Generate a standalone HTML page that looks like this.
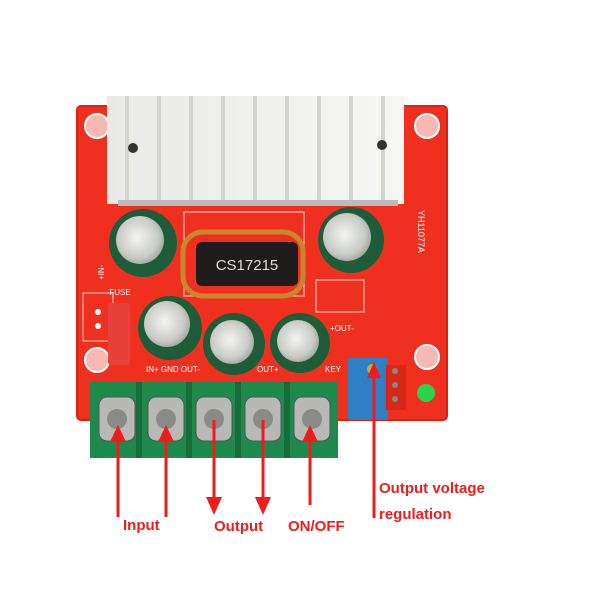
<!DOCTYPE html>
<html><head><style>
html,body{margin:0;padding:0;background:#fff;width:600px;height:600px;overflow:hidden}
text{font-family:"Liberation Sans",sans-serif}
</style></head><body>
<svg width="600" height="600" viewBox="0 0 600 600" xmlns="http://www.w3.org/2000/svg">
<defs>
<radialGradient id="cap" cx="0.45" cy="0.45" r="0.6"><stop offset="0" stop-color="#f4f4f2"/><stop offset="0.7" stop-color="#c9cbc6"/><stop offset="1" stop-color="#9ea29a"/></radialGradient>
<linearGradient id="hs" x1="0" x2="1"><stop offset="0" stop-color="#e9e9e6"/><stop offset="1" stop-color="#f6f6f3"/></linearGradient>
</defs>
<!-- board -->
<rect x="77" y="106" width="370" height="314" rx="4" fill="#f0301e"/>
<rect x="77" y="106" width="370" height="314" rx="4" fill="none" stroke="#d9230f" stroke-width="2"/>
<!-- holes -->
<g fill="#f6b8b0" stroke="#fff" stroke-width="2">
<circle cx="97" cy="126" r="12"/><circle cx="427" cy="126" r="12"/>
<circle cx="97" cy="360" r="12"/><circle cx="427" cy="357" r="12"/>
</g>
<!-- heatsink -->
<rect x="107" y="96" width="297" height="108" fill="url(#hs)"/>
<g fill="#d4d4cf">
<rect x="125" y="96" width="4" height="108"/><rect x="157" y="96" width="4" height="108"/><rect x="189" y="96" width="4" height="108"/><rect x="221" y="96" width="4" height="108"/><rect x="253" y="96" width="4" height="108"/><rect x="285" y="96" width="4" height="108"/><rect x="317" y="96" width="4" height="108"/><rect x="349" y="96" width="4" height="108"/><rect x="381" y="96" width="4" height="108"/>
</g>
<rect x="118" y="200" width="280" height="6" fill="#bbb"/>
<circle cx="133" cy="148" r="5" fill="#333"/><circle cx="382" cy="145" r="5" fill="#333"/>
<text x="0" y="0" transform="translate(418,210) rotate(90)" font-size="9" fill="#fff">YH11077A</text>
<!-- traces -->
<g stroke="#ffb9ad" fill="none" stroke-width="1.2">
<rect x="316" y="280" width="48" height="32"/><rect x="83" y="293" width="30" height="48"/>
<rect x="184" y="212" width="120" height="84"/>
</g>
<!-- inductor -->
<rect x="183" y="232" width="120" height="64" rx="20" fill="none" stroke="#c9862f" stroke-width="5"/>
<rect x="196" y="242" width="102" height="44" rx="6" fill="#1f1d1c"/>
<text x="247" y="270" font-size="15" fill="#ddd" text-anchor="middle">CS17215</text>
<!-- caps -->
<g>
<circle cx="143" cy="243" r="34" fill="#1f5c3a"/><circle cx="140" cy="240" r="24" fill="url(#cap)"/>
<circle cx="351" cy="240" r="33" fill="#1f5c3a"/><circle cx="347" cy="237" r="24" fill="url(#cap)"/>
<circle cx="170" cy="328" r="32" fill="#1f5c3a"/><circle cx="167" cy="324" r="23" fill="url(#cap)"/>
<circle cx="234" cy="344" r="31" fill="#1f5c3a"/><circle cx="232" cy="342" r="22" fill="url(#cap)"/>
<circle cx="300" cy="343" r="30" fill="#1f5c3a"/><circle cx="298" cy="341" r="21" fill="url(#cap)"/>
</g>
<!-- fuse -->
<rect x="108" y="303" width="22" height="62" rx="3" fill="#e8403a"/>
<text x="120" y="295" font-size="8" fill="#fff" text-anchor="middle">FUSE</text>
<circle cx="98" cy="312" r="3" fill="#fff"/><circle cx="98" cy="326" r="3" fill="#fff"/>
<text x="0" y="0" transform="translate(104,280) rotate(-90)" font-size="8" fill="#fff">+IN-</text>
<text x="146" y="372" font-size="8" fill="#fff">IN+ GND OUT-</text>
<text x="257" y="372" font-size="8" fill="#fff">OUT+</text>
<text x="325" y="372" font-size="8" fill="#fff">KEY</text>
<text x="330" y="331" font-size="8" fill="#fff">+OUT-</text>
<!-- pot -->
<rect x="348" y="358" width="40" height="62" fill="#2f7fc6"/>
<circle cx="372" cy="369" r="5" fill="#c9a24a"/>
<rect x="386" y="365" width="20" height="45" fill="#d8281a"/>
<circle cx="395" cy="371" r="3" fill="#888"/><circle cx="395" cy="385" r="3" fill="#888"/><circle cx="395" cy="399" r="3" fill="#888"/>
<circle cx="426" cy="393" r="9" fill="#2bd34a"/>
<!-- terminal block -->
<rect x="90" y="382" width="248" height="76" fill="#1f8a4e"/>
<g fill="#166c3b"><rect x="136" y="382" width="6" height="76"/><rect x="186" y="382" width="6" height="76"/><rect x="235" y="382" width="6" height="76"/><rect x="284" y="382" width="6" height="76"/></g>
<g fill="#b9b9b4" stroke="#555" stroke-width="1">
<rect x="99" y="397" width="36" height="44" rx="8"/><rect x="148" y="397" width="36" height="44" rx="8"/><rect x="196" y="397" width="36" height="44" rx="8"/><rect x="245" y="397" width="36" height="44" rx="8"/><rect x="294" y="397" width="36" height="44" rx="8"/>
</g>
<g fill="#8a8a86"><circle cx="117" cy="419" r="10"/><circle cx="166" cy="419" r="10"/><circle cx="214" cy="419" r="10"/><circle cx="263" cy="419" r="10"/><circle cx="312" cy="419" r="10"/></g>
<!-- arrows -->
<g stroke="#ee1c1c" stroke-width="3" fill="#ee1c1c">
<line x1="118" y1="517" x2="118" y2="440"/><polygon points="110,442 126,442 118,425" stroke="none"/>
<line x1="166" y1="517" x2="166" y2="440"/><polygon points="158,442 174,442 166,425" stroke="none"/>
<line x1="214" y1="420" x2="214" y2="500"/><polygon points="206,497 222,497 214,515" stroke="none"/>
<line x1="263" y1="420" x2="263" y2="500"/><polygon points="255,497 271,497 263,515" stroke="none"/>
<line x1="310" y1="505" x2="310" y2="440"/><polygon points="302,442 318,442 310,425" stroke="none"/>
<line x1="374" y1="518" x2="374" y2="375"/><polygon points="367,378 381,378 374,362" stroke="none"/>
</g>
<g fill="#ee1c1c" font-weight="bold" font-size="15">
<text x="123" y="530">Input</text>
<text x="214" y="531">Output</text>
<text x="288" y="531">ON/OFF</text>
<text x="379" y="493">Output voltage</text>
<text x="379" y="519">regulation</text>
</g>
</svg>
</body></html>
